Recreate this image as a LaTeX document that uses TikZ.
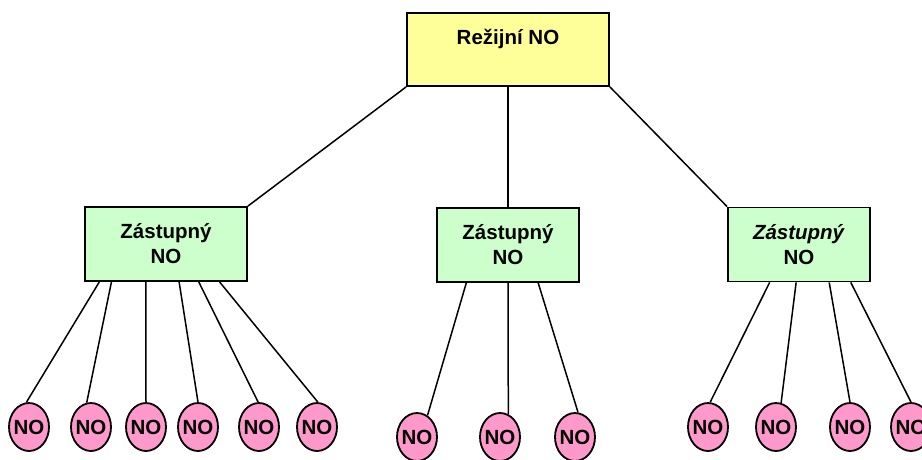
\documentclass[tikz,border=0pt]{standalone}
\usepackage{fontspec}
\setmainfont{Liberation Sans}
\usepackage{xcolor}
\usepackage{tikz}
\usetikzlibrary{shapes.geometric, calc}
\definecolor{topyellow}{HTML}{FFFF99}
\definecolor{midgreen}{HTML}{CCFFCC}
\definecolor{leafpink}{HTML}{FF99CC}
\tikzstyle{topbox} = [draw, fill=topyellow, line width=1.8pt, minimum width=202pt, inner xsep=0pt, inner ysep=9pt, text height=22pt, text depth=33pt]
\tikzstyle{midbox} = [draw, fill=midgreen, line width=1.8pt, minimum height=74pt, align=center]
\tikzstyle{leaf} = [ellipse, draw, fill=leafpink, line width=1.8pt, minimum width=40pt, minimum height=48pt, inner xsep=-2pt, inner ysep=0pt]
\tikzstyle{link} = [line width=1.5pt]

\begin{document}
\begin{tikzpicture}[x=1pt,y=-1pt]
	\begin{scope}[font=\fontsize{20.5}{25}\selectfont\bfseries]
		
		\useasboundingbox (0,0) rectangle (922,459);
		
		% Boxes:
		% The top one and the three below it, placed at coordinates
		\node[topbox] (rezijni) at (508,49.5) {Režijní NO};
		\node[midbox, minimum width=162pt] (zl) at (166,244) {Zástupný\\NO};
		\node[midbox, minimum width=142pt] (zm) at (508,245) {Zástupný\\NO};
		\node[midbox, minimum width=142pt] (zr) at (799,244.5) {\textit{Zástupný}\\NO};
		
		% Lines from the top box:
		\draw[link] (rezijni.south west) -- (zl.north east);
		\draw[link] (rezijni.south) -- (zm.north);
		\draw[link] (rezijni.south east) -- (zr.north west);
		
		% Leaves:
		% x of the leaf / where its line leaves the box / angle where it meets the leaf
		\foreach \x/\f/\a [count=\i] in {29/0.093/96, 91/0.167/100, 146/0.377/90, 198/0.58/90, 259/0.70/92, 317/0.827/88}
		{
			\node[leaf] (nl\i) at (\x,427) {NO};
			\draw[link] ($(zl.south west)!\f!(zl.south east)$) -- (nl\i.\a);
		}
		
		\foreach \x/\f/\a [count=\i] in {417/0.21/64, 500/0.5/70, 575/0.71/83}
		{
			\node[leaf] (nm\i) at (\x,437) {NO};
			\draw[link] ($(zm.south west)!\f!(zm.south east)$) -- (nm\i.\a);
		}
		
		\foreach \x/\f/\a [count=\i] in {708/0.296/85, 776/0.48/78, 850/0.71/90, 911/0.86/90}
		{
			\node[leaf] (nr\i) at (\x,427) {NO};
			\draw[link] ($(zr.south west)!\f!(zr.south east)$) -- (nr\i.\a);
		}
		
	\end{scope}
\end{tikzpicture}
\end{document}
